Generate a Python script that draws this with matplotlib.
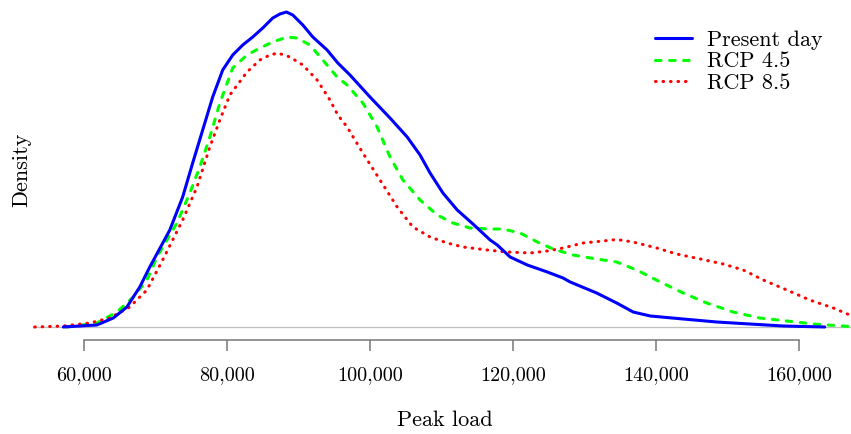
import matplotlib
matplotlib.use("Agg")
import matplotlib.pyplot as plt

# Kernel density estimates of annual peak load (density in units of 1e-5)
present_x = [57100, 61800, 64100, 66000, 67800, 69200, 72000, 73800, 75200, 76600,
             78000, 79400, 80800, 82200, 83600, 85000, 86400, 87400, 88300, 89200,
             90600, 92000, 94000, 95500, 97200, 100000, 102800, 105200, 107000, 108400,
             110200, 112200, 114400, 116800, 117800, 119600, 122000, 124800, 127000,
             128000, 131700, 134500, 136800, 139200, 143800, 148500, 153100, 157800,
             163600]
present_d = [0.0, 0.02, 0.09, 0.20, 0.40, 0.60, 0.97, 1.30, 1.64, 1.97,
             2.30, 2.57, 2.72, 2.82, 2.90, 2.99, 3.09, 3.13, 3.15, 3.12,
             3.02, 2.90, 2.77, 2.64, 2.52, 2.30, 2.09, 1.90, 1.72, 1.54,
             1.34, 1.17, 1.03, 0.87, 0.82, 0.70, 0.62, 0.55, 0.49,
             0.45, 0.34, 0.24, 0.15, 0.11, 0.08, 0.05, 0.03, 0.01,
             0.0]

rcp45_x = [57600, 61800, 64600, 66900, 68800, 70200, 73000, 74800, 76200, 77600,
           79000, 80800, 82800, 84600, 86400, 88400, 89800, 91600, 93400, 95400,
           96800, 99000, 101000, 102800, 104600, 107000, 109400, 111600, 114000,
           116800, 118600, 121000, 123400, 125600, 128400, 131700, 134500, 137300,
           140600, 143800, 147100, 150800, 154500, 158300, 162000, 167100]
rcp45_d = [0.0, 0.04, 0.15, 0.30, 0.47, 0.70, 1.04, 1.34, 1.60, 1.90,
           2.24, 2.59, 2.72, 2.79, 2.85, 2.90, 2.89, 2.82, 2.67, 2.50,
           2.42, 2.24, 2.00, 1.70, 1.47, 1.27, 1.12, 1.04, 0.99,
           0.98, 0.98, 0.94, 0.85, 0.78, 0.72, 0.68, 0.65, 0.57,
           0.45, 0.34, 0.24, 0.15, 0.09, 0.06, 0.03, 0.005]

rcp85_x = [53100, 57100, 60800, 63600, 66400, 68800, 71000, 73800, 75800, 77600,
           79000, 80400, 82800, 84600, 86000, 87100, 88800, 90600, 92600, 94400,
           95500, 96800, 99000, 101400, 103800, 106000, 108400, 110800, 113000,
           116400, 119200, 122400, 124800, 127000, 129800, 132600, 134500, 136800,
           140100, 142900, 146200, 149400, 152200, 155000, 158300, 161500, 164800,
           167100, 172000]
rcp85_d = [0.0, 0.01, 0.04, 0.09, 0.20, 0.37, 0.67, 1.07, 1.40, 1.80,
           2.07, 2.32, 2.55, 2.67, 2.72, 2.74, 2.70, 2.62, 2.47, 2.27,
           2.12, 2.00, 1.74, 1.47, 1.20, 1.00, 0.90, 0.84, 0.80,
           0.77, 0.75, 0.74, 0.76, 0.79, 0.84, 0.86, 0.875, 0.85,
           0.79, 0.73, 0.68, 0.63, 0.57, 0.47, 0.37, 0.27, 0.19,
           0.12, 0.05]

xticks = [60000, 80000, 100000, 120000, 140000, 160000]
xticklabels = ["60,000", "80,000", "100,000", "120,000", "140,000", "160,000"]

plt.rcParams["font.family"] = ["cmr10", "DejaVu Serif"]
plt.rcParams["axes.unicode_minus"] = False

W, H = 851, 434
fig = plt.figure(figsize=(W / 100, H / 100), dpi=100)
ax = fig.add_axes([33 / W, (H - 340) / H, (W - 33) / W, 340 / H])

scale = 1e-5
ax.axhline(0, color="#bebebe", lw=0.9, zorder=1)
ax.plot(present_x, [d * scale for d in present_d], color="#0000ff", lw=2.2,
        solid_capstyle="round", solid_joinstyle="round", label="Present day", zorder=3)
ax.plot(rcp45_x, [d * scale for d in rcp45_d], color="#00ff00", lw=2.2,
        dashes=(1.8, 2.8), dash_capstyle="round", label="RCP 4.5", zorder=2)
ax.plot(rcp85_x, [d * scale for d in rcp85_d], color="#ff0000", lw=2.2,
        dashes=(0.2, 2.25), dash_capstyle="round", label="RCP 8.5", zorder=2)

ax.set_xlim(52867, 167273)
ax.set_ylim(-0.13 * scale, 3.27 * scale)

for side in ("top", "right", "left"):
    ax.spines[side].set_visible(False)
ax.spines["bottom"].set_bounds(xticks[0], xticks[-1])
ax.spines["bottom"].set_color("#777777")
ax.spines["bottom"].set_linewidth(1.1)
ax.set_yticks([])
ax.set_xticks(xticks)
ax.set_xticklabels(xticklabels)
ax.tick_params(axis="x", direction="out", length=8, width=1.1, color="#777777",
               pad=11, labelsize=14.5)

fig.text(445 / W, 1 - 420 / H, "Peak load", ha="center", va="center", fontsize=16)
fig.text(22 / W, 1 - 170 / H, "Density", rotation=90, ha="center", va="center",
         fontsize=16)

ax.legend(loc="upper left", bbox_to_anchor=((655 - 33) / (W - 33), 1 - 30 / 340),
          frameon=False, handlelength=1.67, handletextpad=0.68,
          labelspacing=0.1, borderaxespad=0, borderpad=0, fontsize=16)

fig.savefig("out.png", dpi=100)
